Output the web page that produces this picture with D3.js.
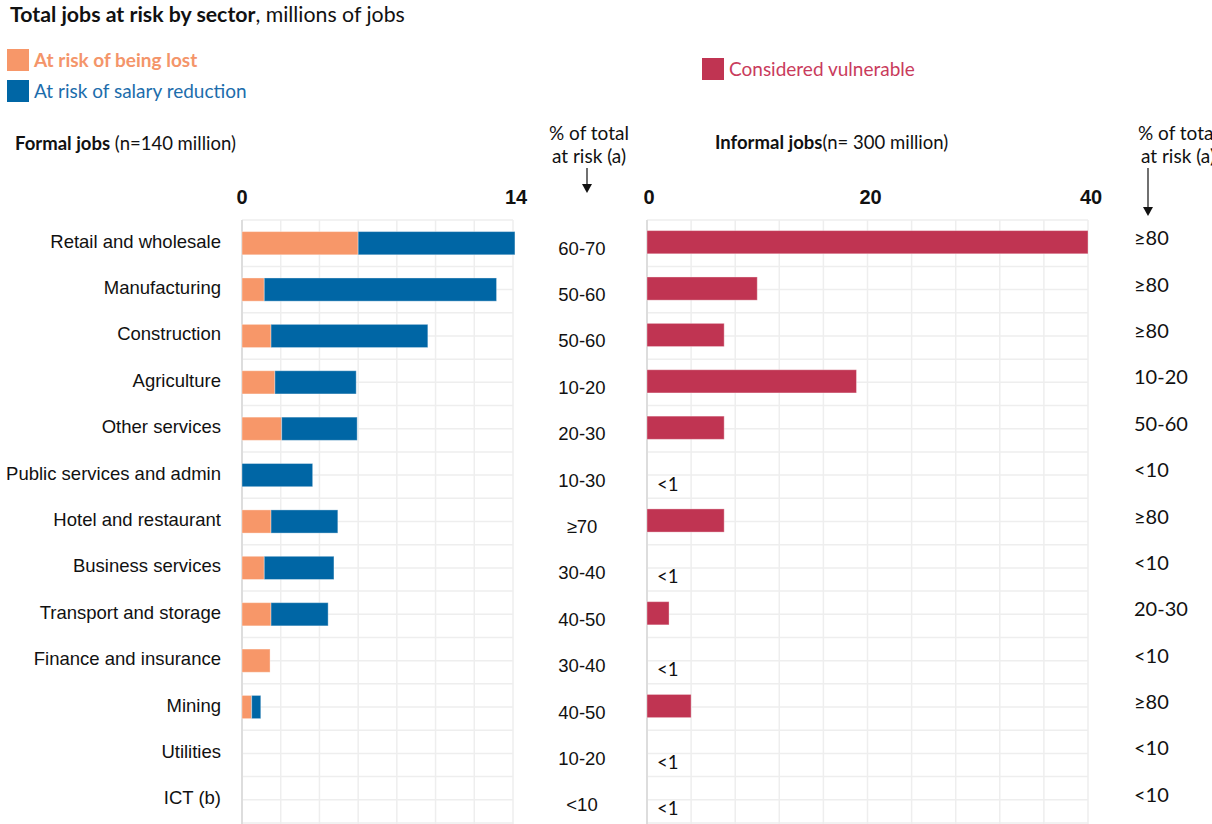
<!DOCTYPE html>
<html>
<head>
<meta charset="utf-8">
<script src="https://cdn.jsdelivr.net/npm/d3@7"></script>
<style>
  body { margin: 0; background: #fff; }
  svg { display: block; }
  .cal { font-family: Lato, "Open Sans", sans-serif; }
  .ari { font-family: "Liberation Sans", Arial, sans-serif; }
  .tick-lbl { font-family: "Liberation Sans Narrow", "Arial Narrow", "Liberation Sans", sans-serif; font-weight: bold; font-size: 20px; }
</style>
</head>
<body>
<script>
// data
var sectors = ['Retail and wholesale', 'Manufacturing', 'Construction', 'Agriculture', 'Other services',
  'Public services and admin', 'Hotel and restaurant', 'Business services', 'Transport and storage',
  'Finance and insurance', 'Mining', 'Utilities', 'ICT (b)'];
var lostFormal   = [6.0, 1.15, 1.5, 1.7, 2.05, 0, 1.5, 1.15, 1.5, 1.45, 0.5, 0, 0];
var salaryFormal = [8.1, 12.0, 8.1, 4.2, 3.9, 3.65, 3.45, 3.6, 2.95, 0, 0.47, 0, 0];
// null = "<1"
var vulnerableInformal = [40, 10, 7, 19, 7, null, 7, null, 2, null, 4, null, null];
var shareFormal   = ['60-70', '50-60', '50-60', '10-20', '20-30', '10-30', '≥70', '30-40', '40-50', '30-40', '40-50', '10-20', '<10'];
var shareInformal = ['≥80', '≥80', '≥80', '10-20', '50-60', '<10', '≥80', '<10', '20-30', '<10', '≥80', '<10', '<10'];
var formalTicks = [0, 14];
var informalTicks = [0, 20, 40];

var colors = { lost: '#F79769', salary: '#0066A5', vuln: '#C03452' };

var W = 1212, H = 824;
var svg = d3.select('body').append('svg')
  .attr('width', W)
  .attr('height', H);

// title
var title = svg.append('text')
  .attr('class', 'cal')
  .attr('x', 10)
  .attr('y', 22)
  .style('font-size', '21.3px')
  .style('fill', '#111');
title.append('tspan').style('font-weight', 'bold').text('Total jobs at risk by sector');
title.append('tspan').text(', millions of jobs');

// legend
var legendItems = [
  { label: 'At risk of being lost', color: colors.lost, text: '#F4956A', bold: true, x: 7, y: 49 },
  { label: 'At risk of salary reduction', color: colors.salary, text: '#1C6DAC', bold: false, x: 7, y: 80 },
  { label: 'Considered vulnerable', color: colors.vuln, text: '#C93B5C', bold: false, x: 702, y: 58 }
];
var legend = svg.selectAll('.legend')
  .data(legendItems)
  .enter().append('g')
  .attr('class', 'legend')
  .attr('transform', function(d) { return 'translate(' + d.x + ',' + d.y + ')'; });
legend.append('rect')
  .attr('width', 22)
  .attr('height', 22)
  .attr('fill', function(d) { return d.color; });
legend.append('text')
  .attr('class', 'cal')
  .attr('x', 27)
  .attr('y', 11)
  .attr('dy', '0.35em')
  .style('font-size', '19px')
  .style('font-weight', function(d) { return d.bold ? 'bold' : 'normal'; })
  .style('fill', function(d) { return d.text; })
  .text(function(d) { return d.label; });

// panel headers
function panelHeader(x, y, bold, rest) {
  var t = svg.append('text').attr('x', x).attr('y', y).style('font-size', '18.5px').style('fill', '#111');
  t.append('tspan').attr('class', 'cal').style('font-weight', 'bold').text(bold);
  t.append('tspan').attr('class', 'cal').text(rest);
}
panelHeader(15, 150, 'Formal jobs', ' (n=140 million)');
panelHeader(715, 149, 'Informal jobs', '(n= 300 million)');

// the right-hand header runs off the page edge, as in the original
function shareHeader(cx, arrowX, y0, y1) {
  svg.append('text').attr('class', 'cal').attr('x', cx).attr('y', 140)
    .attr('text-anchor', 'middle').style('font-size', '19px').style('fill', '#111').text('% of total');
  svg.append('text').attr('class', 'cal').attr('x', cx).attr('y', 163)
    .attr('text-anchor', 'middle').style('font-size', '19px').style('fill', '#111').text('at risk (a)');
  svg.append('line').attr('x1', arrowX).attr('x2', arrowX).attr('y1', y0).attr('y2', y1 - 8)
    .attr('stroke', '#111').attr('stroke-width', 1.2);
  svg.append('path')
    .attr('d', 'M' + (arrowX - 5) + ',' + (y1 - 9) + 'L' + (arrowX + 5) + ',' + (y1 - 9) + 'L' + arrowX + ',' + y1 + 'Z')
    .attr('fill', '#111');
}
shareHeader(589, 587, 168, 193);
shareHeader(1178, 1148, 168, 216);

// scales
var y = d3.scaleBand()
  .domain(sectors)
  .range([220, 823])
  .paddingInner(0.5)
  .paddingOuter(0.25);

var xL = d3.scaleLinear().domain([0, 14]).range([242, 513]);
var xR = d3.scaleLinear().domain([0, 40]).range([647, 1088]);

var gridY = d3.range(0, sectors.length * 2 + 1).map(function(i) { return 220 + i * y.step() / 2; });

function grid(x, ticks) {
  var g = svg.append('g').attr('class', 'grid');
  g.selectAll('.h').data(gridY).enter().append('line')
    .attr('x1', x.range()[0]).attr('x2', x.range()[1])
    .attr('y1', function(d) { return d; }).attr('y2', function(d) { return d; })
    .attr('stroke', '#eeeeee').attr('stroke-width', 1.5);
  g.selectAll('.v').data(ticks).enter().append('line')
    .attr('x1', function(d) { return x(d); }).attr('x2', function(d) { return x(d); })
    .attr('y1', 220).attr('y2', H)
    .attr('stroke', '#eeeeee').attr('stroke-width', 1.5);
  g.append('line')
    .attr('x1', x(0)).attr('x2', x(0)).attr('y1', 220).attr('y2', H)
    .attr('stroke', '#dddddd').attr('stroke-width', 2);
}
grid(xL, d3.range(0, 15, 2));
grid(xR, d3.range(0, 41, 4));

// tick labels
svg.selectAll('.tl').data(formalTicks).enter().append('text')
  .attr('class', 'tick-lbl')
  .attr('x', function(d) { return xL(d) + (d === 0 ? 0 : 3); })
  .attr('y', 204)
  .attr('text-anchor', 'middle')
  .style('fill', '#111')
  .text(function(d) { return d; });
svg.selectAll('.tr').data(informalTicks).enter().append('text')
  .attr('class', 'tick-lbl')
  .attr('x', function(d) { return xR(d) + (d === 0 ? 2 : 3); })
  .attr('y', 204)
  .attr('text-anchor', 'middle')
  .style('fill', '#111')
  .text(function(d) { return d; });

// formal stacked bars
var formalRows = sectors.map(function(s, i) {
  return { sector: s, lost: lostFormal[i], salary: salaryFormal[i] };
});
var stack = d3.stack().keys(['lost', 'salary'])(formalRows);
svg.append('g').selectAll('g')
  .data(stack)
  .enter().append('g')
  .attr('fill', function(d) { return colors[d.key]; })
  .selectAll('rect')
  .data(function(d) { return d.filter(function(p) { return p[1] - p[0] > 0; }); })
  .enter().append('rect')
  .attr('x', function(d) { return xL(d[0]); })
  .attr('width', function(d) { return xL(d[1]) - xL(d[0]); })
  .attr('y', function(d) { return y(d.data.sector); })
  .attr('height', y.bandwidth())
  .attr('stroke', 'rgba(255,255,255,0.35)')
  .attr('stroke-width', 1);

// informal bars
var informalRows = sectors.map(function(s, i) { return { sector: s, v: vulnerableInformal[i] }; });
svg.append('g').selectAll('rect')
  .data(informalRows.filter(function(d) { return d.v !== null; }))
  .enter().append('rect')
  .attr('x', xR(0))
  .attr('width', function(d) { return xR(d.v) - xR(0); })
  .attr('y', function(d) { return y(d.sector) - 1; })
  .attr('height', y.bandwidth())
  .attr('fill', colors.vuln)
  .attr('stroke', 'rgba(255,255,255,0.35)')
  .attr('stroke-width', 1);
svg.append('g').selectAll('text')
  .data(informalRows.filter(function(d) { return d.v === null; }))
  .enter().append('text')
  .attr('class', 'cal')
  .attr('x', xR(0) + 10)
  .attr('y', function(d) { return y(d.sector) + y.bandwidth() / 2 + 9; })
  .attr('dy', '0.35em')
  .style('font-size', '18.5px')
  .style('fill', '#111')
  .text('<1');

// category labels
svg.append('g').selectAll('text')
  .data(sectors)
  .enter().append('text')
  .attr('class', 'ari')
  .attr('x', 221)
  .attr('y', function(d) { return y(d) + y.bandwidth() / 2 - 2; })
  .attr('dy', '0.35em')
  .attr('text-anchor', 'end')
  .style('font-size', '18.5px')
  .style('fill', '#111')
  .text(function(d) { return d; });

// share columns
svg.append('g').selectAll('text')
  .data(shareFormal)
  .enter().append('text')
  .attr('class', 'ari')
  .attr('x', 582)
  .attr('y', function(d, i) { return y(sectors[i]) + y.bandwidth() / 2 + 5; })
  .attr('dy', '0.35em')
  .attr('text-anchor', 'middle')
  .style('font-size', '18.5px')
  .style('fill', '#111')
  .text(function(d) { return d; });

svg.append('g').selectAll('text')
  .data(shareInformal)
  .enter().append('text')
  .attr('class', 'cal')
  .attr('x', 1134)
  .attr('y', function(d, i) { return y(sectors[i]) + y.bandwidth() / 2 - 5; })
  .attr('dy', '0.35em')
  .style('font-size', '20px')
  .style('fill', '#111')
  .text(function(d) { return d; });
</script>
</body>
</html>
